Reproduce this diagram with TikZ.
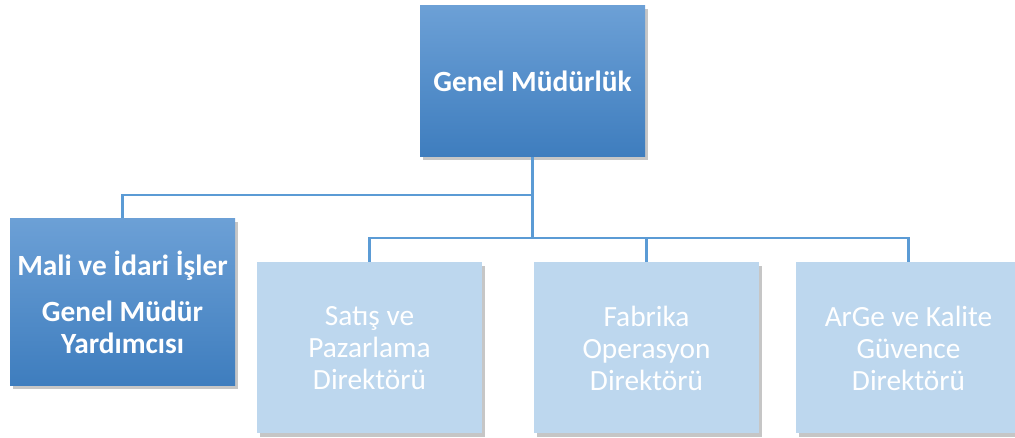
\documentclass[tikz,border=0pt]{standalone}
\usepackage{fontspec}
\setmainfont{Carlito}
\usetikzlibrary{shadows}
\definecolor{topblue}{RGB}{108,160,214}
\definecolor{botblue}{RGB}{62,125,190}
\definecolor{lightblue}{RGB}{189,215,238}
\definecolor{linkblue}{RGB}{91,155,213}
\tikzset{every picture/.style={line width=0.75pt}}
\tikzset{
  darkbox/.style={rectangle, top color=topblue, bottom color=botblue, text=white,
    font=\fontsize{22}{24}\selectfont\bfseries, align=center, minimum width=168.75pt,
    drop shadow={shadow xshift=2pt, shadow yshift=-2.5pt, opacity=0.45}},
  lightbox/.style={rectangle, fill=lightblue, text=white, font=\fontsize{22}{24}\selectfont,
    align=center, minimum width=168.75pt, minimum height=128.25pt,
    drop shadow={shadow xshift=2pt, shadow yshift=-2.5pt, opacity=0.45}},
  conn/.style={draw=linkblue, line width=1.8pt}
}
\begin{document}
\begin{tikzpicture}[x=0.75pt,y=0.75pt,yscale=-1,xscale=1]
		\useasboundingbox (0,0) rectangle (1015,438);
		
		% Top box
		\node [darkbox, minimum height=113.25pt] (gm) at (532.5,81.5) {Genel Müdürlük};
		% Assistant box
		\node [darkbox, minimum height=125.25pt] (gmy) at (122.5,302.5) {Mali ve İdari İşler\\[10pt]Genel Müdür\\Yardımcısı};
		
		% Directors
		\node [lightbox] (satis) at (369.5,348) {Satış ve\\Pazarlama\\Direktörü};
		\node [lightbox] (fabrika) at (646.5,348) {Fabrika\\Operasyon\\Direktörü};
		\node [lightbox] (arge) at (908.5,348) {ArGe ve Kalite\\Güvence\\Direktörü};
		
		%Connector junctions
		\coordinate (busA) at (532.5,195);
		\coordinate (busB) at (532.5,238);
		
		%Connectors
		\draw [conn] (gm.south) -- (busB);
		\draw [conn] (busA) -| (gmy.north);
		\draw [conn] (busB) -| (satis.north);
		\draw [conn] (busB) -| (fabrika.north);
		\draw [conn] (busB) -| (arge.north);
		
\end{tikzpicture}
\end{document}
